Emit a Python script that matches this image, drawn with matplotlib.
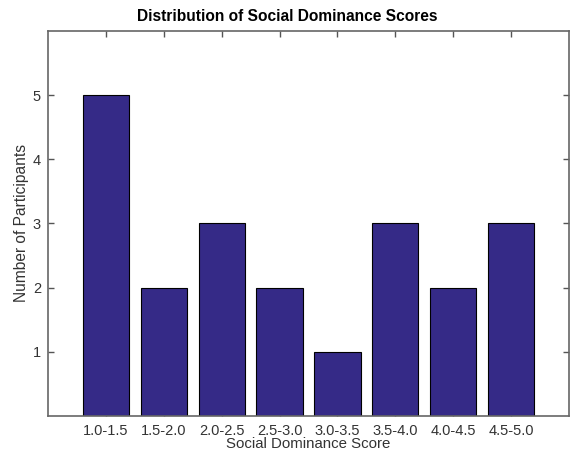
import matplotlib
matplotlib.use("Agg")
import matplotlib.pyplot as plt

# Bin labels and counts
bins = ['1.0-1.5', '1.5-2.0', '2.0-2.5', '2.5-3.0', '3.0-3.5', '3.5-4.0', '4.0-4.5', '4.5-5.0']
counts = [5, 2, 3, 2, 1, 3, 2, 3]
yticks = [1, 2, 3, 4, 5]

plt.rcParams['font.family'] = ['Liberation Sans', 'DejaVu Sans']

fig = plt.figure(figsize=(5.74, 4.57), dpi=100)
ax = fig.add_axes([0.0836, 0.0897, 0.9077, 0.8425])

positions = list(range(1, len(bins) + 1))
ax.bar(positions, counts, width=0.8, color='#352a87', edgecolor='black', linewidth=0.8, zorder=2)

ax.set_xlim(0, 9)
ax.set_ylim(0, 6)
ax.set_xticks(positions)
ax.set_xticklabels(bins)
ax.set_yticks(yticks)

ax.tick_params(direction='in', top=True, right=True, length=4, width=1,
               color='#555555', labelsize=10.5, labelcolor='#333333')
ax.tick_params(axis='x', pad=6)
ax.tick_params(axis='y', pad=5)
for s in ax.spines.values():
    s.set_color('#666666')
    s.set_linewidth(1.2)

# title sits centred on the figure, not the axes
fig.text(0.5, 1 - 16.5 / 457, 'Distribution of Social Dominance Scores', ha='center', va='center',
         fontsize=11.2, fontweight='bold')
ax.set_xlabel('Social Dominance Score', fontsize=10.8, color='#333333', labelpad=-1)
ax.set_ylabel('Number of Participants', fontsize=11.2, color='#333333', labelpad=3)

fig.savefig('out.png', dpi=100)
